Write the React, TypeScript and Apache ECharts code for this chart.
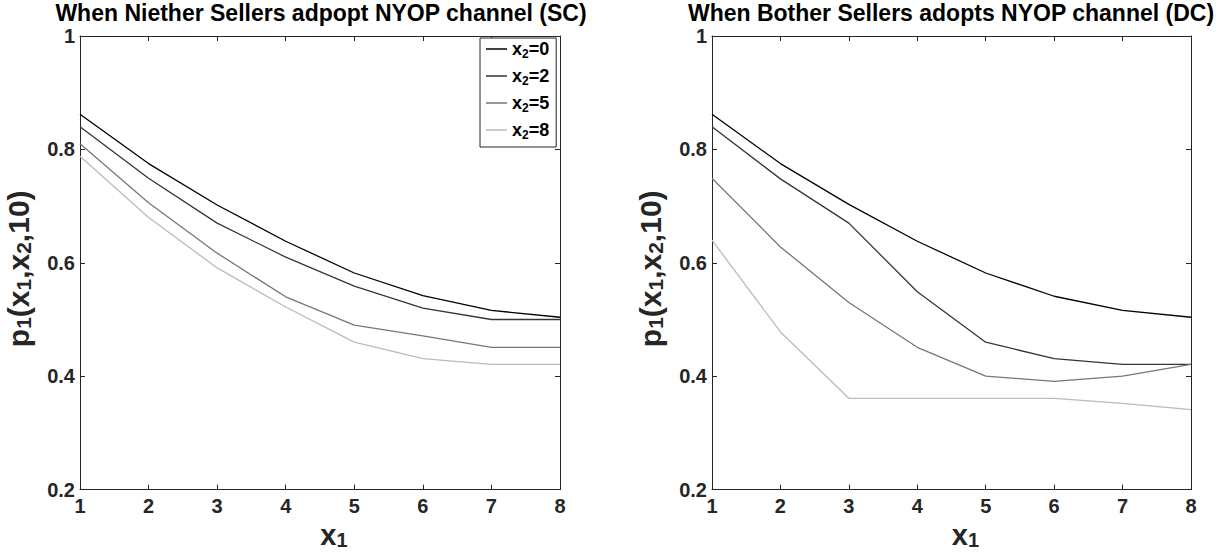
import React, { useEffect, useRef } from "react";
import * as echarts from "echarts";

const x1Values = [1, 2, 3, 4, 5, 6, 7, 8];
const x2Labels = ["0", "2", "5", "8"];
const lineColors = ["#000000", "#353535", "#777777", "#bbbbbb"];

// Left panel: neither seller adopts NYOP (SC)
const scX2_0 = [0.862, 0.775, 0.702, 0.638, 0.582, 0.542, 0.516, 0.504];
const scX2_2 = [0.84, 0.749, 0.67, 0.61, 0.559, 0.52, 0.5, 0.5];
const scX2_5 = [0.81, 0.706, 0.617, 0.54, 0.49, 0.471, 0.451, 0.451];
const scX2_8 = [0.788, 0.68, 0.591, 0.522, 0.46, 0.431, 0.421, 0.421];

// Right panel: both sellers adopt NYOP (DC)
const dcX2_0 = [0.862, 0.775, 0.703, 0.638, 0.582, 0.541, 0.516, 0.504];
const dcX2_2 = [0.84, 0.748, 0.67, 0.549, 0.46, 0.431, 0.421, 0.421];
const dcX2_5 = [0.749, 0.628, 0.53, 0.451, 0.4, 0.391, 0.4, 0.421];
const dcX2_8 = [0.64, 0.478, 0.361, 0.361, 0.361, 0.361, 0.352, 0.341];

const titles = [
  "When Niether Sellers adpopt NYOP channel (SC)",
  "When Bother Sellers adopts NYOP channel (DC)",
];

const FONT = "'Liberation Sans', Arial, Helvetica, sans-serif";
const AXIS_COLOR = "#262626";

export default function App() {
  const ref = useRef<HTMLDivElement>(null);

  useEffect(() => {
    if (!ref.current) return;
    const chart = echarts.init(ref.current, undefined, { renderer: "svg" });

    const grids = [
      { left: 80, top: 36, width: 480, height: 461 },
      { left: 712, top: 36, width: 479, height: 461 },
    ];

    const richX = {
      b: { fontSize: 29, fontWeight: "bold", color: AXIS_COLOR, fontFamily: FONT, lineHeight: 30, verticalAlign: "middle" },
      s: { fontSize: 20, fontWeight: "bold", color: AXIS_COLOR, fontFamily: FONT, lineHeight: 12, verticalAlign: "bottom" },
    };
    const richY = {
      b: { fontSize: 30, fontWeight: "bold", color: AXIS_COLOR, fontFamily: FONT, lineHeight: 32, verticalAlign: "middle" },
      s: { fontSize: 21, fontWeight: "bold", color: AXIS_COLOR, fontFamily: FONT, lineHeight: 12, verticalAlign: "bottom" },
    };

    const xAxes: any[] = [];
    const yAxes: any[] = [];
    [0, 1].forEach((g) => {
      xAxes.push({
        type: "value",
        gridIndex: g,
        min: 1,
        max: 8,
        interval: 1,
        position: "bottom",
        axisLine: { show: true, onZero: false, lineStyle: { color: AXIS_COLOR, width: 1 } },
        axisTick: { show: true, inside: true, length: 5, lineStyle: { color: AXIS_COLOR } },
        axisLabel: { fontSize: 20, fontWeight: "bold", color: AXIS_COLOR, fontFamily: FONT, margin: 6 },
        splitLine: { show: false },
        name: "{b|x}{s|1}",
        nameLocation: "middle",
        nameGap: 21,
        nameTextStyle: { rich: richX, padding: [0, 0, 0, 28] },
      });
      xAxes.push({
        type: "value",
        gridIndex: g,
        min: 1,
        max: 8,
        interval: 1,
        position: "top",
        axisLine: { show: true, onZero: false, lineStyle: { color: AXIS_COLOR, width: 1 } },
        axisTick: { show: true, inside: true, length: 5, lineStyle: { color: AXIS_COLOR } },
        axisLabel: { show: false },
        splitLine: { show: false },
      });
      yAxes.push({
        type: "value",
        gridIndex: g,
        min: 0.2,
        max: 1,
        interval: 0.2,
        position: "left",
        axisLine: { show: true, onZero: false, lineStyle: { color: AXIS_COLOR, width: 1 } },
        axisTick: { show: true, inside: true, length: 5, lineStyle: { color: AXIS_COLOR } },
        axisLabel: {
          fontSize: 20,
          fontWeight: "bold",
          color: AXIS_COLOR,
          fontFamily: FONT,
          margin: 5,
          formatter: (v: number) => (Math.abs(v - 1) < 1e-9 ? "1" : v.toFixed(1)),
        },
        splitLine: { show: false },
        name: "{b|p}{s|1}{b|(x}{s|1}{b|,x}{s|2}{b|,10)}",
        nameLocation: "middle",
        nameGap: 46,
        nameRotate: 90,
        nameTextStyle: { rich: richY, padding: [0, 12, 0, 0] },
      });
      yAxes.push({
        type: "value",
        gridIndex: g,
        min: 0.2,
        max: 1,
        interval: 0.2,
        position: "right",
        axisLine: { show: true, onZero: false, lineStyle: { color: AXIS_COLOR, width: 1 } },
        axisTick: { show: true, inside: true, length: 5, lineStyle: { color: AXIS_COLOR } },
        axisLabel: { show: false },
        splitLine: { show: false },
      });
    });

    const scSets = [scX2_0, scX2_2, scX2_5, scX2_8];
    const dcSets = [dcX2_0, dcX2_2, dcX2_5, dcX2_8];
    const series: any[] = [];
    const mk = (arr: number[]) => x1Values.map((x, i) => [x, arr[i]]);
    scSets.forEach((arr, i) => {
      series.push({
        name: "x2=" + x2Labels[i],
        type: "line",
        xAxisIndex: 0,
        yAxisIndex: 0,
        data: mk(arr),
        symbol: "none",
        lineStyle: { color: lineColors[i], width: 1.3 },
        itemStyle: { color: lineColors[i] },
      });
    });
    dcSets.forEach((arr, i) => {
      series.push({
        name: "DC x2=" + x2Labels[i],
        type: "line",
        xAxisIndex: 2,
        yAxisIndex: 2,
        data: mk(arr),
        symbol: "none",
        lineStyle: { color: lineColors[i], width: 1.3 },
        itemStyle: { color: lineColors[i] },
      });
    });

    const richLegend = {
      b: { fontSize: 18, fontWeight: "bold", color: "#000", fontFamily: FONT, lineHeight: 22, verticalAlign: "middle" },
      s: { fontSize: 12, fontWeight: "bold", color: "#000", fontFamily: FONT, lineHeight: 9, verticalAlign: "bottom" },
    };

    chart.setOption({
      animation: false,
      backgroundColor: "#ffffff",
      title: [
        {
          text: titles[0],
          left: 321,
          top: 1,
          padding: 0,
          textAlign: "center",
          textStyle: { fontSize: 23, fontWeight: "bold", color: "#000", fontFamily: FONT },
        },
        {
          text: titles[1],
          left: 951,
          top: 1,
          padding: 0,
          textAlign: "center",
          textStyle: { fontSize: 23, fontWeight: "bold", color: "#000", fontFamily: FONT },
        },
      ],
      legend: {
        data: x2Labels.map((l) => "x2=" + l),
        orient: "vertical",
        left: 480,
        top: 38,
        padding: [0, 7, 6, 6],
        itemGap: 5,
        itemWidth: 21,
        itemHeight: 1.5,
        icon: "rect",
        borderColor: AXIS_COLOR,
        borderWidth: 1,
        borderRadius: 0,
        backgroundColor: "#fff",
        formatter: (name: string) => "{b|x}{s|2}{b|=" + name.split("=")[1] + "}",
        textStyle: { rich: richLegend, lineHeight: 22, height: 22 },
      },
      grid: grids,
      xAxis: xAxes,
      yAxis: yAxes,
      series,
    });

    return () => chart.dispose();
  }, []);

  return (
    <div
      ref={ref}
      style={{ position: "absolute", left: 0, top: 0, width: 1216, height: 555 }}
    />
  );
}
